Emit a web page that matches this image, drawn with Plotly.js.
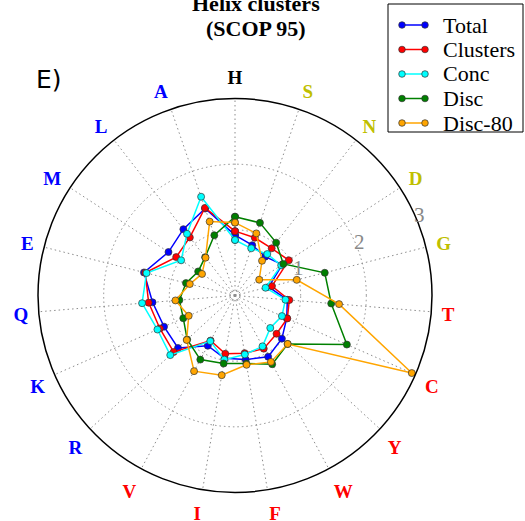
<!DOCTYPE html>
<html>
<head>
<meta charset="utf-8">
<script src="https://cdn.plot.ly/plotly-3.0.1.min.js"></script>
<style>
html,body{margin:0;padding:0;background:#fff;}
#chart{width:525px;height:521px;}
</style>
</head>
<body>
<div id="chart"></div>
<script>
// Amino-acid categories (clockwise from top)
const categories = ['H','S','N','D','G','T','C','Y','W','F','I','V','R','K','Q','E','M','L','A'];
const labelColors = ['#000000','#bfbf00','#bfbf00','#bfbf00','#bfbf00','#ff0000','#ff0000','#ff0000','#ff0000','#ff0000','#ff0000','#ff0000','#0000ff','#0000ff','#0000ff','#0000ff','#0000ff','#0000ff','#0000ff'];

const seriesNames = ['Total','Clusters','Conc','Disc','Disc-80'];
const total    = [0.92,0.81,0.75,0.86,0.53,0.80,0.86,0.97,1.06,0.99,0.97,0.87,1.18,1.18,1.26,1.43,1.21,1.28,1.40];
const clusters = [0.98,0.93,0.91,0.98,0.58,0.83,0.87,0.86,0.92,0.89,0.90,0.78,1.27,1.25,1.32,1.41,1.07,1.12,1.41];
const conc     = [0.845,0.76,0.80,0.84,0.48,0.77,0.78,0.73,0.88,0.91,0.99,0.79,1.34,1.29,1.42,1.39,0.98,1.19,1.59];
const disc     = [1.20,1.17,1.02,0.88,1.41,1.47,1.86,1.09,1.19,1.05,1.05,1.11,0.99,0.86,0.85,0.77,0.67,0.74,0.97];
const disc80   = [1.11,1.00,0.67,0.44,0.97,1.59,2.94,1.09,1.15,1.07,1.23,1.31,1.00,0.77,0.91,0.71,0.60,0.73,1.19];

const radialTicks = [0.07,1,2,3];
const radialLabelValues = [1,2,3];
const radialLabelText = ['1','2','3'];
const radialMax = 3;

const seriesValues = [total, clusters, conc, disc, disc80];
const seriesColors = ['#0000ff','#ff0000','#00ffff','#008000','#ffa500'];

const traces = seriesValues.map((vals,i)=>({
  type:'scatterpolar',
  mode:'lines+markers',
  name: seriesNames[i],
  r: vals.concat([vals[0]]),
  theta: categories.concat([categories[0]]),
  line:{color:seriesColors[i], width:1.5},
  marker:{color:seriesColors[i], size:7, line:{color:'#333333', width:0.7}},
  cliponaxis:false,
  showlegend:false
}));

const tickText = categories.map((c,i)=>'<b><span style="color:'+labelColors[i]+'">'+c+'</span></b>');

const W = 525, H = 521;
const px = x => x / W, py = y => 1 - y / H;

// polar area (pixels)
const polarCx = 235, polarCy = 295.5, polarR = 197;

// Hand-built legend (box, sample lines, dots, labels)
const legendTop = 4, legendBottom = 132, legendLeft = 388, legendRight = 523;
const legendRow0 = 25, legendRowStep = 24.5;
const shapes = [{type:'rect', xref:'paper', yref:'paper', x0:px(legendLeft), x1:px(legendRight), y0:py(legendBottom), y1:py(legendTop), line:{color:'black', width:1}, fillcolor:'white', layer:'above'}];
const annotations = [];
seriesNames.forEach((n,i)=>{
  const y = legendRow0 + i*legendRowStep;
  shapes.push({type:'line', xref:'paper', yref:'paper', x0:px(402), x1:px(425), y0:py(y), y1:py(y), line:{color:seriesColors[i], width:1.5}, layer:'above'});
  [402,425].forEach(xc=>{
    shapes.push({type:'circle', xref:'paper', yref:'paper', x0:px(xc-3.3), x1:px(xc+3.3), y0:py(y+3.3), y1:py(y-3.3), fillcolor:seriesColors[i], line:{color:'#333333', width:0.7}, layer:'above'});
  });
  annotations.push({text:n, xref:'paper', yref:'paper', x:px(441), y:py(y), xanchor:'left', yanchor:'middle', showarrow:false, font:{family:'Liberation Serif', size:22, color:'black'}});
});

// radial tick labels (placed just outside each ring, ~23.5 deg above horizontal)
const labelAngle = 23.5 * Math.PI / 180;
radialLabelValues.forEach((v,i)=>{
  const rp = v / radialMax * polarR + 4;
  annotations.push({text:radialLabelText[i], xref:'paper', yref:'paper',
    x:px(polarCx + rp*Math.cos(labelAngle)), y:py(polarCy - rp*Math.sin(labelAngle)),
    xanchor:'center', yanchor:'middle', showarrow:false,
    font:{family:'Liberation Serif', size:21, color:'#888888'}});
});

annotations.push(
  {text:'<b>Helix clusters</b>', xref:'paper', yref:'paper', x:px(256), y:py(3), xanchor:'center', yanchor:'middle', showarrow:false, font:{family:'Liberation Serif', size:22, color:'black'}},
  {text:'<b>(SCOP 95)</b>', xref:'paper', yref:'paper', x:px(256), y:py(28), xanchor:'center', yanchor:'middle', showarrow:false, font:{family:'Liberation Serif', size:22, color:'black'}},
  {text:'E)', xref:'paper', yref:'paper', x:px(49), y:py(79), xanchor:'center', yanchor:'middle', showarrow:false, font:{family:'DejaVu Sans', size:25, color:'black'}}
);

const layout = {
  width:W, height:H,
  margin:{l:0,r:0,t:0,b:0},
  paper_bgcolor:'white',
  showlegend:false,
  polar:{
    domain:{x:[px(polarCx-polarR), px(polarCx+polarR)], y:[py(polarCy+polarR), py(polarCy-polarR)]},
    bgcolor:'white',
    angularaxis:{
      type:'category',
      categoryorder:'array',
      categoryarray:categories,
      direction:'clockwise',
      rotation:90,
      tickmode:'array',
      tickvals:categories,
      ticktext:tickText,
      tickfont:{family:'Liberation Serif', size:19, color:'black'},
      ticks:'outside', ticklen:6, tickcolor:'rgba(0,0,0,0)',
      showline:true, linecolor:'black', linewidth:1.5,
      showgrid:true, gridcolor:'#8c8c8c', griddash:'1.5px,3px', gridwidth:1
    },
    radialaxis:{
      range:[0,radialMax],
      tickmode:'array',
      tickvals:radialTicks,
      showticklabels:false,
      showline:false,
      ticks:'',
      showgrid:true, gridcolor:'#8c8c8c', griddash:'1.5px,3px', gridwidth:1
    }
  },
  shapes:shapes,
  annotations:annotations
};

Plotly.newPlot('chart', traces, layout, {displayModeBar:false, staticPlot:true});
</script>
</body>
</html>
